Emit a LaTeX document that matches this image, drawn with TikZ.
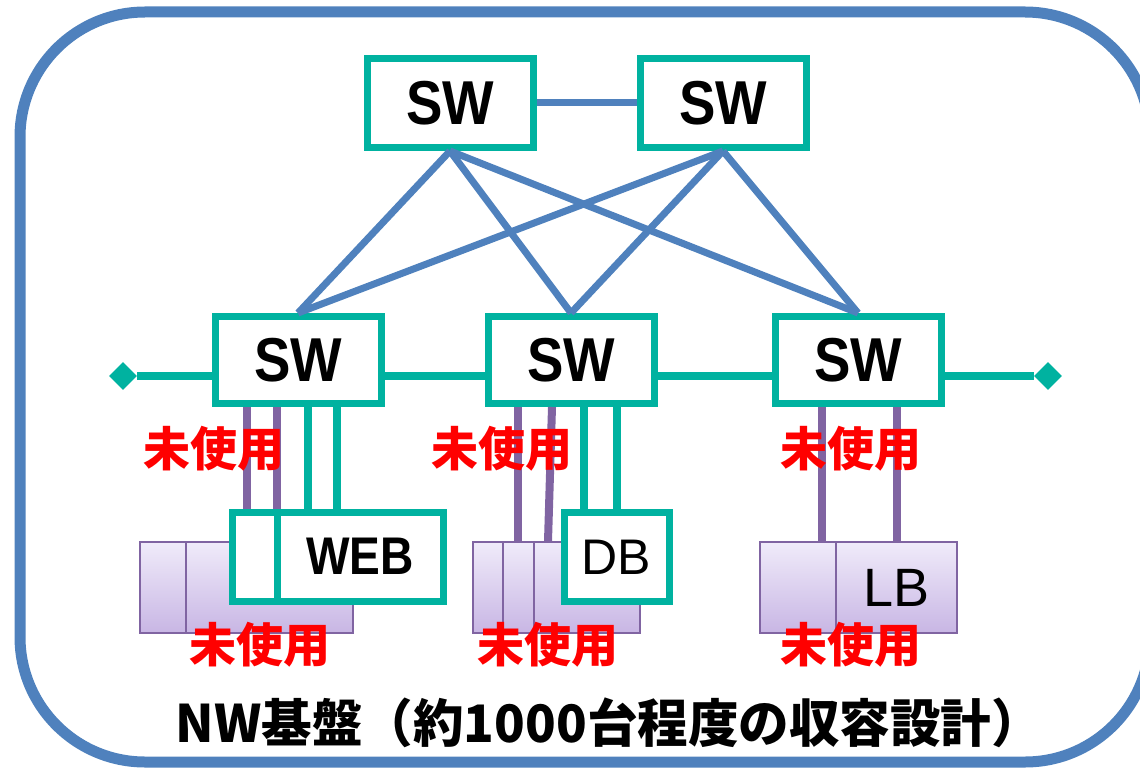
\documentclass[tikz,border=0pt]{standalone}
\usepackage{fontspec}
\usepackage{graphicx}
\usetikzlibrary{shapes.geometric}
\newfontfamily\arialf{Liberation Sans}
\newfontfamily\cjkf{Noto Sans CJK JP}
\definecolor{teal1}{RGB}{0,178,160}
\definecolor{blue1}{RGB}{79,129,189}
\definecolor{purp}{RGB}{128,100,162}
\definecolor{ptop}{RGB}{240,235,250}
\definecolor{pbot}{RGB}{200,182,228}
\definecolor{red1}{RGB}{255,0,0}
\begin{document}
\begin{tikzpicture}[x=1pt,y=-1pt,
  swbox/.style={draw=teal1,line width=7pt,fill=white,inner sep=0pt,minimum width=166pt,minimum height=89pt,
    font=\arialf\bfseries\fontsize{62}{62}\selectfont},
  tbox/.style={draw=teal1,line width=7pt,fill=white,inner sep=0pt,minimum height=89pt},
  pbox/.style={draw=purp,line width=1.5pt,top color=ptop,bottom color=pbot,inner sep=0pt,minimum height=91pt},
  blink/.style={draw=blue1,line width=7pt},
  tline/.style={draw=teal1,line width=8pt},
  pline/.style={draw=purp,line width=8pt},
  dia/.style={diamond,fill=teal1,inner sep=0pt,minimum width=28pt,minimum height=28pt},
  unused/.style={text=red1,font=\cjkf\bfseries\fontsize{47}{47}\selectfont,inner sep=0pt}
]
\useasboundingbox (0,0) rectangle (1140,770);
% outer frame
\draw[blue1,line width=11pt,rounded corners=125pt] (20,12) rectangle (1150,762);

% diamonds and teal backbone
\node[dia] (d1) at (123,376) {};
\node[dia] (d2) at (1048,376) {};

% switches
\node[swbox] (tl) at (450,103) {\scalebox{0.88}[1]{SW}};
\node[swbox] (tr) at (723,103) {\scalebox{0.88}[1]{SW}};
\node[swbox,minimum height=87pt] (m1) at (298,360) {\scalebox{0.88}[1]{SW}};
\node[swbox,minimum height=87pt] (m2) at (571,360) {\scalebox{0.88}[1]{SW}};
\node[swbox,minimum height=87pt] (m3) at (858,360) {\scalebox{0.88}[1]{SW}};

\draw[tline] (d1) -- (d1 -| m1.west);
\draw[tline] (m1.east |- d1) -- (m2.west |- d1);
\draw[tline] (m2.east |- d1) -- (m3.west |- d1);
\draw[tline] (m3.east |- d1) -- (d2);

% blue links
\draw[blink] (tl) -- (tr);
\draw[blink] (tl.south) -- (m1.north);
\draw[blink] (tl.south) -- (m2.north);
\draw[blink] (tl.south) -- (m3.north);
\draw[blink] (tr.south) -- (m1.north);
\draw[blink] (tr.south) -- (m2.north);
\draw[blink] (tr.south) -- (m3.north);

% purple server boxes
\node[pbox,minimum width=46pt] (p11) at (163,587.5) {};
\node[pbox,minimum width=167pt] (p12) at (269.5,587.5) {};
\node[pbox,minimum width=30pt] (p21) at (488,587.5) {};
\node[pbox,minimum width=31pt] (p22) at (518.5,587.5) {};
\node[pbox,minimum width=106pt] (p23) at (587,587.5) {};
\node[pbox,minimum width=76pt] (p31) at (798,587.5) {};
\node[pbox,minimum width=121pt,font=\arialf\fontsize{54}{54}\selectfont] (p32) at (896.5,587.5) {\raisebox{-4pt}{LB}};

% teal server boxes
\node[tbox,minimum width=45pt] (sb) at (254.5,556.5) {};
\node[tbox,minimum width=166pt,font=\arialf\bfseries\fontsize{53}{53}\selectfont] (web) at (360,556.5) {\raisebox{-4pt}{\scalebox{0.87}[1]{WEB}}};
\node[tbox,minimum width=105pt,font=\arialf\fontsize{50}{50}\selectfont] (db) at (616.5,557) {\raisebox{-3pt}{DB}};

% vertical connectors
\coordinate (x1) at (247,0);
\coordinate (x2) at (277,0);
\coordinate (x3) at (308,0);
\coordinate (x4) at (337,0);
\draw[pline] (m1.south -| x1) -- (sb.north -| x1);
\draw[pline] (m1.south -| x2) -- (sb.north -| x2);
\draw[tline] (m1.south -| x3) -- (web.north -| x3);
\draw[tline] (m1.south -| x4) -- (web.north -| x4);

\coordinate (y1) at (518,0);
\coordinate (y2a) at (552,0);
\coordinate (y2b) at (548,0);
\coordinate (y3) at (584,0);
\coordinate (y4) at (617,0);
\draw[pline] (m2.south -| y1) -- (p22.north -| y1);
\draw[pline] (m2.south -| y2a) -- (p23.north -| y2b);
\draw[tline] (m2.south -| y3) -- (db.north -| y3);
\draw[tline] (m2.south -| y4) -- (db.north -| y4);

\coordinate (z1) at (822,0);
\coordinate (z2) at (897,0);
\draw[pline] (m3.south -| z1) -- (p31.north -| z1);
\draw[pline] (m3.south -| z2) -- (p32.north -| z2);

% labels
\node[unused] (u1) at (214,449) {未使用};
\node[unused] (u2) at (502,449) {未使用};
\node[unused] (u3) at (851,449) {未使用};
\node[unused] (u4) at (260,645) {未使用};
\node[unused] (u5) at (548,645) {未使用};
\node[unused] (u6) at (851,645) {未使用};

% title
\node[inner sep=0pt] (title) at (609,723) {\resizebox*{866pt}{50pt}{\cjkf\bfseries NW基盤（約1000台程度の収容設計）}};
\end{tikzpicture}
\end{document}
